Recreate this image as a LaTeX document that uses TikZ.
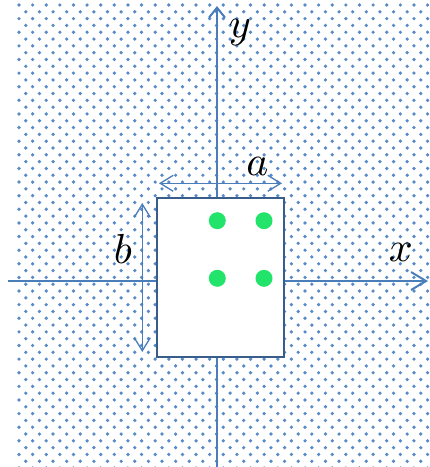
\documentclass[tikz,border=0pt]{standalone}
\usetikzlibrary{arrows.meta}
\definecolor{axisblue}{RGB}{74,126,187}
\definecolor{dotblue}{RGB}{88,138,198}
\definecolor{boxblue}{RGB}{56,93,138}
\definecolor{dotgreen}{RGB}{34,228,106}
\tikzset{
  axisline/.style={draw=axisblue, line width=2pt},
  dimline/.style={draw=axisblue, line width=1.3pt, {Straight Barb[length=13pt,width=16pt]}-{Straight Barb[length=13pt,width=16pt]}},
  gdot/.style={circle, fill=dotgreen, minimum size=17pt, inner sep=0pt},
  boxnode/.style={draw=boxblue, line width=2pt, fill=white, minimum width=127pt, minimum height=159pt, inner sep=0pt},
  lbl/.style={inner sep=0pt, scale=4.2}
}
\begin{document}
\begin{tikzpicture}[x=1pt,y=-1pt]
\useasboundingbox (0,0) rectangle (430,467);
% dotted background
\begin{scope}
\clip (14,3.5) rectangle (430,467);
\foreach \r in {0,...,68} {
  \pgfmathsetmacro\yy{5+6.81*\r}
  \pgfmathsetmacro\xo{mod(\r,2)==0 ? 19 : 12.19}
  \foreach \c in {0,...,31} {
    \fill[dotblue] (\xo+13.62*\c, \yy) circle (1.85pt);
  }
}
\end{scope}
% axes
\coordinate (yb) at (217,467);
\coordinate (yt) at (217,6);
\coordinate (xl) at (8,281);
\coordinate (xr) at (428,281);
\draw[axisline, -{Straight Barb[length=10pt,width=16pt]}] (yb) -- (yt);
\draw[axisline, -{Straight Barb[length=15pt,width=18pt]}] (xl) -- (xr);
% box
\node[boxnode] (box) at (220.5,277.5) {};
% green dots
\node[gdot] (d1) at (217.3,220.7) {};
\node[gdot] (d2) at (264,220.7) {};
\node[gdot] (d3) at (217.3,278.3) {};
\node[gdot] (d4) at (264,278.3) {};
% dimension arrows
\coordinate (al) at (159,183.3);
\coordinate (ar) at (282,183.3);
\draw[dimline] (al) -- (ar);
\coordinate (bt) at (142.3,203);
\coordinate (bb) at (142.3,352);
\draw[dimline] (bt) -- (bb);
% labels
\node[lbl] (la) at (257.5,166) {$a$};
\node[lbl] (lb) at (123,248.5) {$b$};
\node[lbl] (ly) at (240,33) {$y$};
\node[lbl] (lx) at (401,252.5) {$x$};
\end{tikzpicture}
\end{document}
